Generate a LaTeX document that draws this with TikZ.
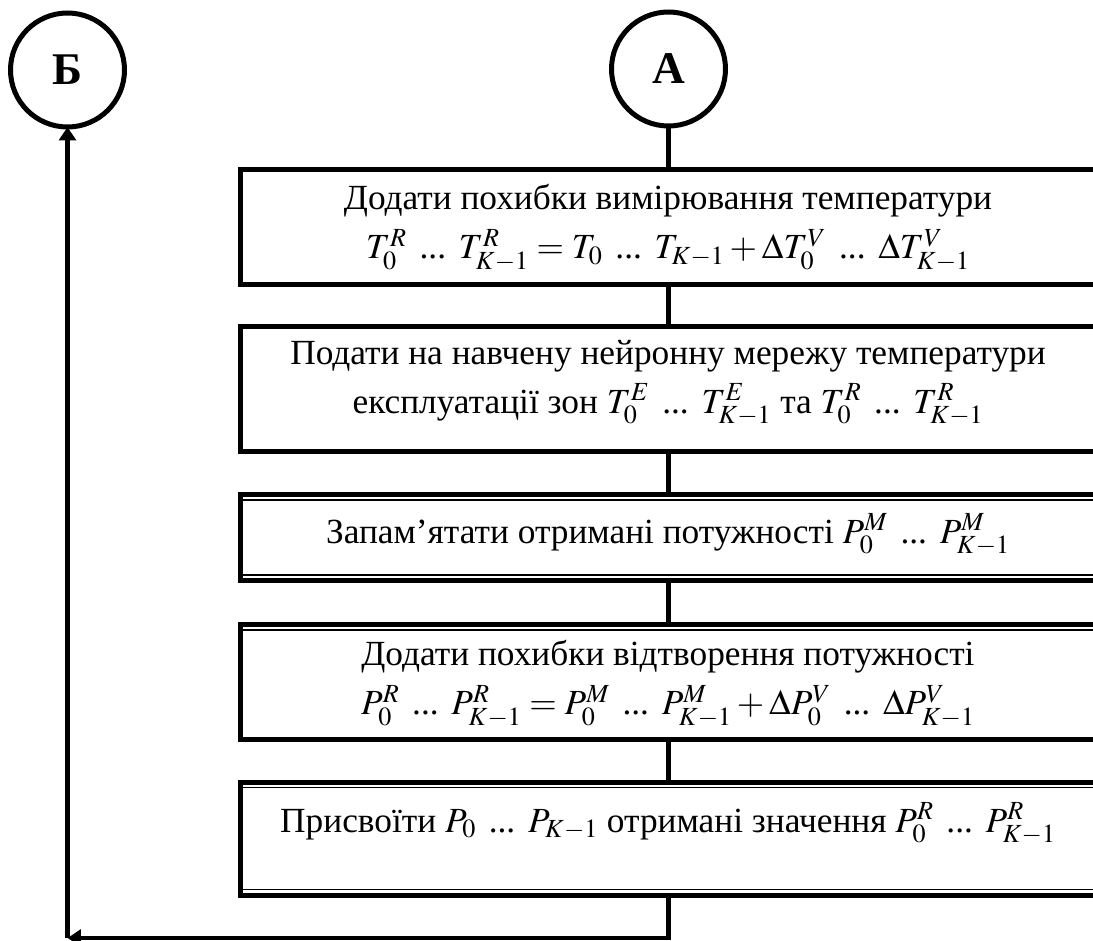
\documentclass[tikz,border=0pt]{standalone}
\usepackage{mathptmx}
\usepackage{fontspec}
\setmainfont{Liberation Serif}
\usetikzlibrary{arrows.meta, positioning, calc}
\newcommand{\dts}{\ \,\mbox{...}\,\ }

\begin{document}
\begin{tikzpicture}[x=0.75pt, y=-0.75pt, >={Triangle[length=10pt, width=12.5pt]},
  blk/.style={draw, line width=3.75pt, minimum width=642.75pt, inner sep=0pt, outer sep=0pt},
  txt/.style={align=center, font=\fontsize{26.5}{37}\selectfont},
  jump/.style={draw, circle, line width=3.75pt, minimum size=85.5pt, inner sep=0pt, outer sep=0pt, font=\fontsize{34}{36}\selectfont\bfseries},
  link/.style={line width=3.4pt},
  inner line/.style={line width=1.1pt}]

% Frame (boxes run past the right edge)
\useasboundingbox (0,0) rectangle (1093,941);
\clip (0,0) rectangle (1093,941);

% Connectors
\node[jump] (cb) at (67.5,70) {Б};
\node[jump] (ca) at (668.5,69) {А};

% Blocks
\node[blk, minimum height=85.9pt]  (b1) at (668.5,227.25) {};
\node[blk, minimum height=93.75pt] (b2) at (668.5,389) {};
\node[blk, minimum height=64.5pt]  (b3) at (668.5,537.5) {};
\node[blk, minimum height=86.25pt] (b4) at (668.5,682) {};
\node[blk, minimum height=84.75pt] (b5) at (668.5,838.5) {};

% Thin inner lines of the double borders
\draw[inner line] ($(b3.north west)+(2.5,5.5)$) -- ($(b3.north east)+(0,5.5)$);
\draw[inner line] ($(b3.south west)+(2.5,-5.5)$) -- ($(b3.south east)+(0,-5.5)$);
\draw[inner line] ($(b4.north west)+(2.5,5.5)$) -- ($(b4.north east)+(0,5.5)$);
\draw[inner line] ($(b5.north west)+(2.5,5.5)$) -- ($(b5.north east)+(0,5.5)$);
\draw[inner line] ($(b5.south west)+(2.5,-5.5)$) -- ($(b5.south east)+(0,-5.5)$);

% Texts
\node[txt] (t1) at (668,228) {Додати похибки вимірювання температури\\
  $T_0^R\dts T_{K-1}^R = T_0\dts T_{K-1} + \Delta T_0^V\dts \Delta T_{K-1}^V$};
\node[txt] (t2) at (668,383) {Подати на навчену нейронну мережу температури\\
  експлуатації зон $T_0^E\dts T_{K-1}^E$ та $T_0^R\dts T_{K-1}^R$};
\node[txt, anchor=base] (t3) at (668,543) {Запам’ятати отримані потужності $P_0^M\dts P_{K-1}^M$};
\node[txt] (t4) at (668,684) {Додати похибки відтворення потужності\\
  $P_0^R\dts P_{K-1}^R = P_0^M\dts P_{K-1}^M + \Delta P_0^V\dts \Delta P_{K-1}^V$};
\node[txt, anchor=base] (t5) at (668,832) {Присвоїти $P_0\dts P_{K-1}$ отримані значення $P_0^R\dts P_{K-1}^R$};

% Flow lines
\draw[link] (ca.south) -- (b1.north);
\draw[link] (b1.south) -- (b2.north);
\draw[link] (b2.south) -- (b3.north);
\draw[link] (b3.south) -- (b4.north);
\draw[link] (b4.south) -- (b5.north);

% Return to B
\coordinate (corner) at (67.5,938);
\draw[link, ->] (b5.south) |- (corner);
\draw[link, ->] (corner) -- (cb.south);

\end{tikzpicture}
\end{document}
